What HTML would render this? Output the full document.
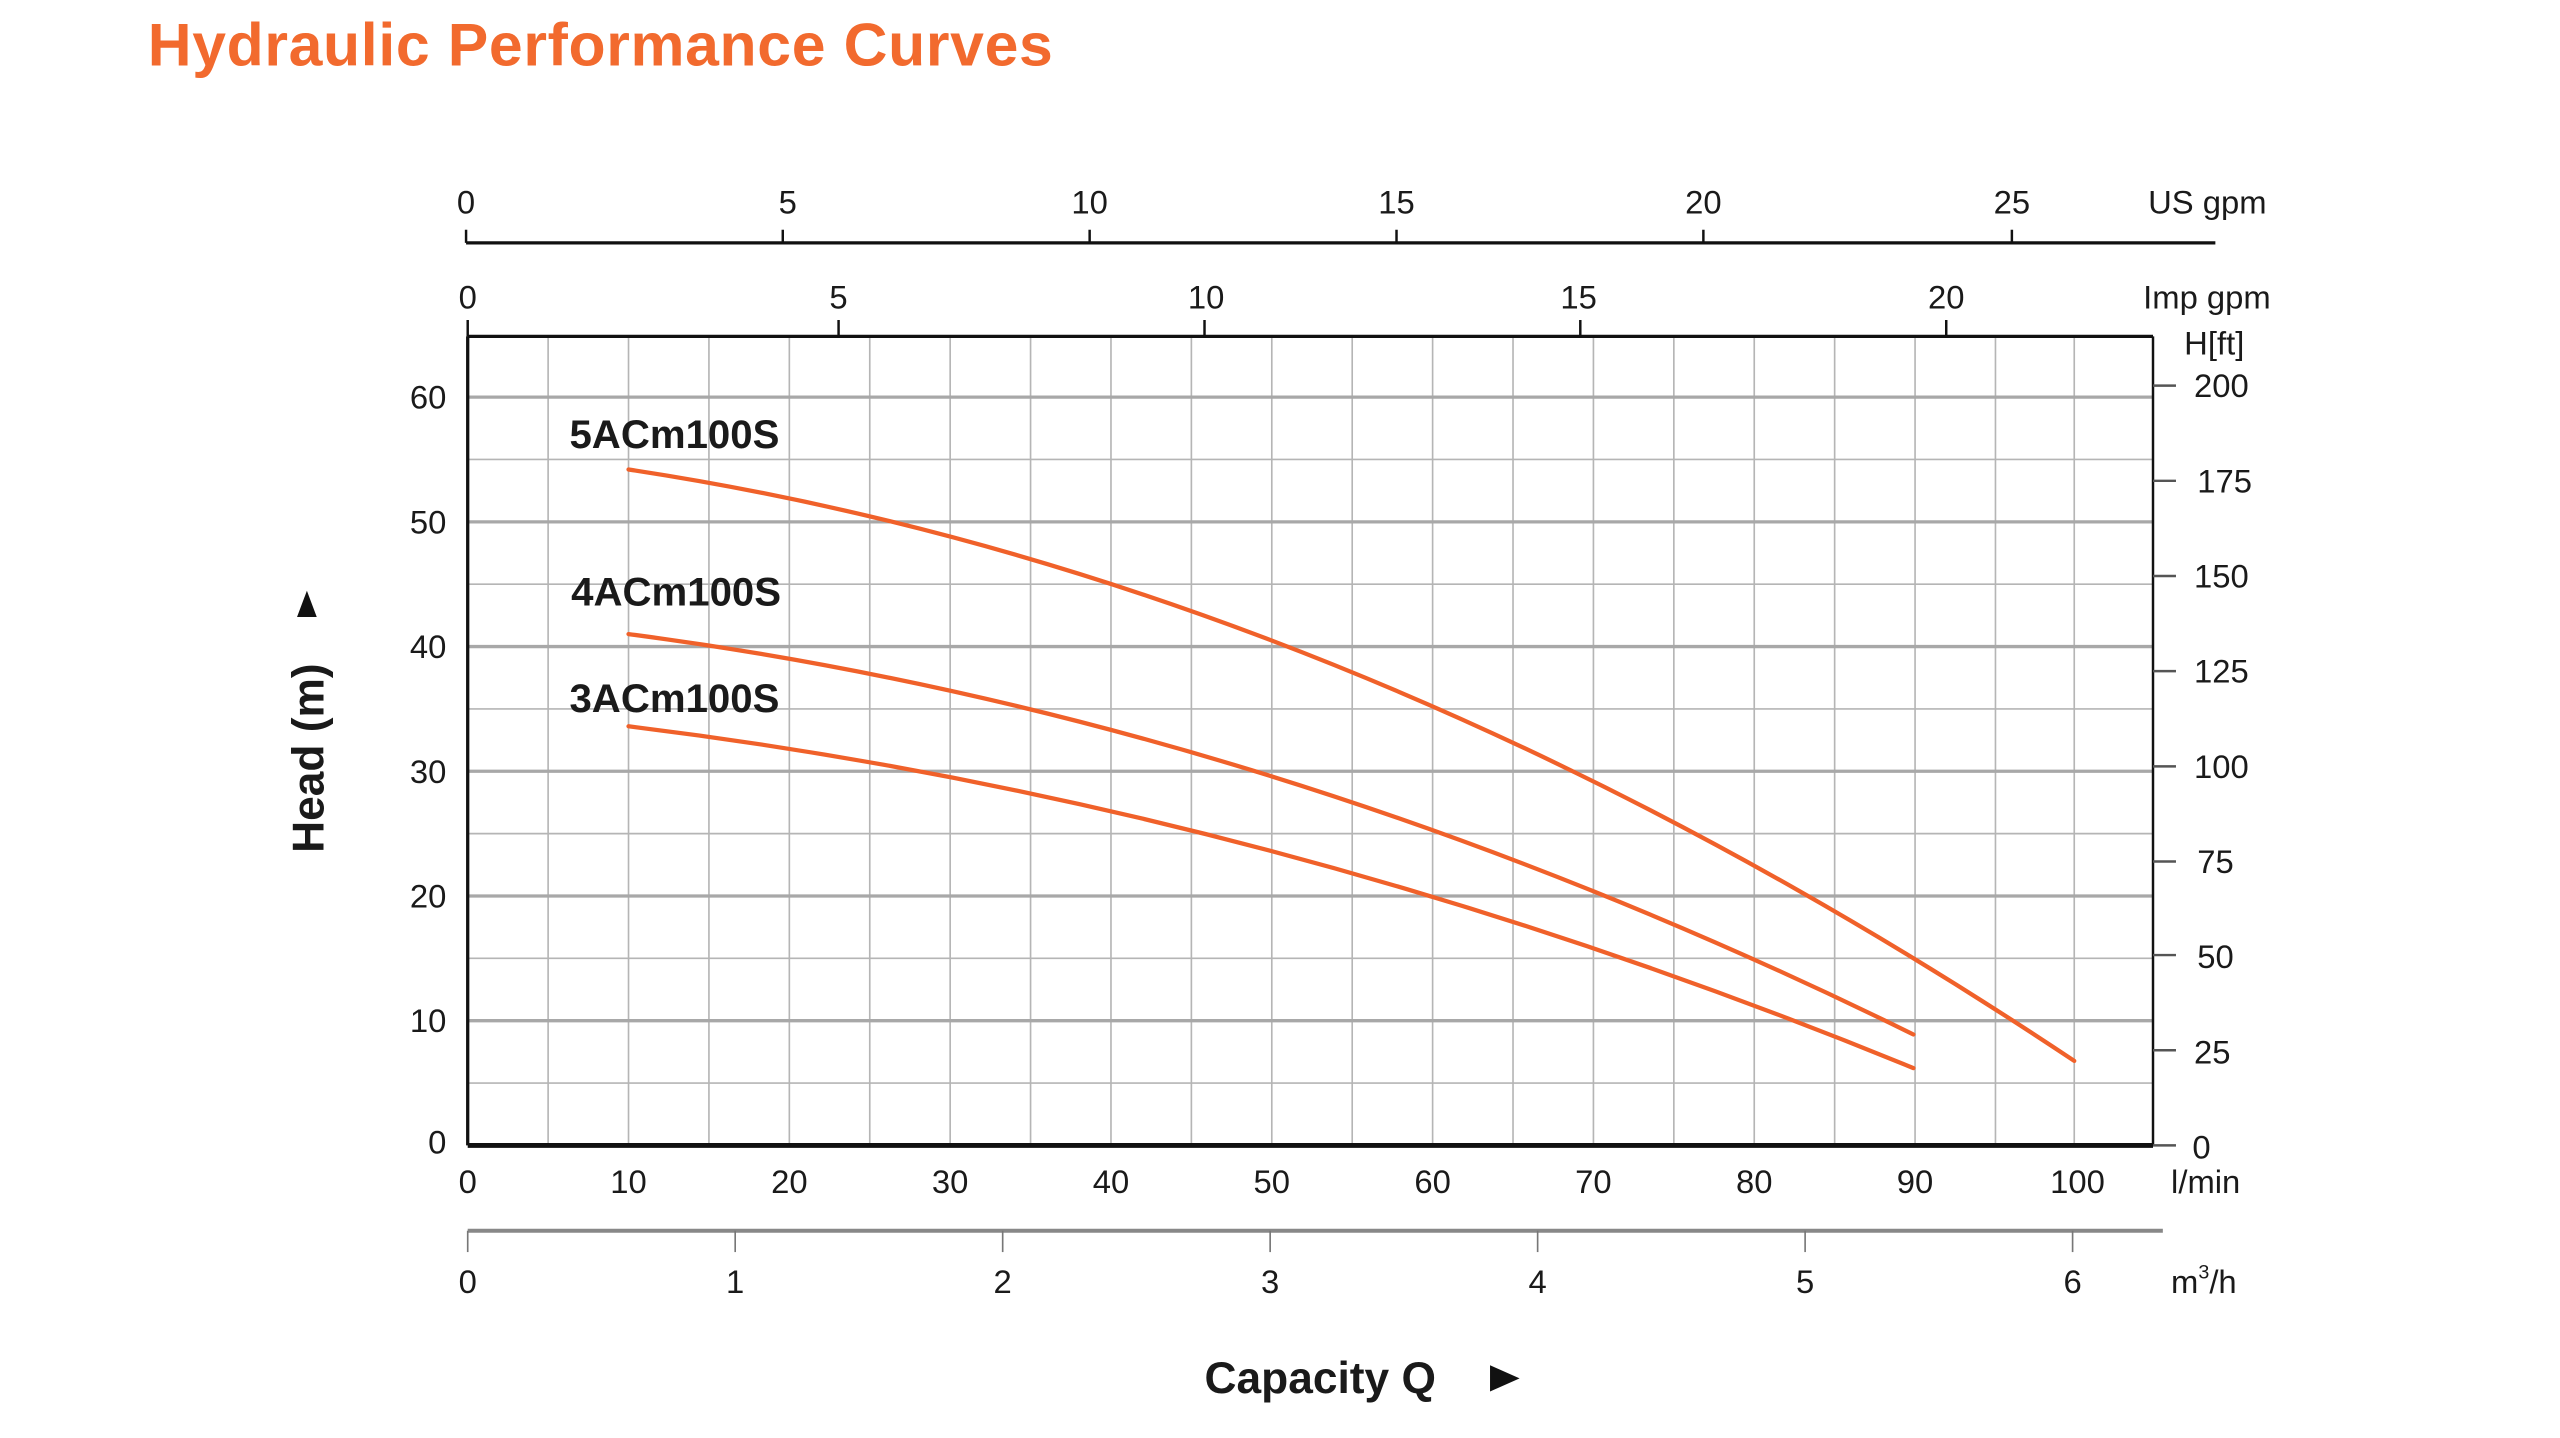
<!DOCTYPE html>
<html><head><meta charset="utf-8"><style>
html,body{margin:0;padding:0;background:#fff;}
svg{display:block;}
text{font-family:"Liberation Sans",sans-serif;fill:#1a1a1a;}
</style></head><body>
<svg width="2560" height="1438" viewBox="0 0 1560 876.3" xmlns="http://www.w3.org/2000/svg">
<text x="90" y="40" font-size="37" font-weight="bold" letter-spacing="0.4" style="fill:#f26a2e">Hydraulic Performance Curves</text>
<g stroke="#b5b5b5" stroke-width="1">
<line x1="334" y1="205" x2="334" y2="698"/><line x1="383" y1="205" x2="383" y2="698"/><line x1="432" y1="205" x2="432" y2="698"/><line x1="481" y1="205" x2="481" y2="698"/><line x1="530" y1="205" x2="530" y2="698"/><line x1="579" y1="205" x2="579" y2="698"/><line x1="628" y1="205" x2="628" y2="698"/><line x1="677" y1="205" x2="677" y2="698"/><line x1="726" y1="205" x2="726" y2="698"/><line x1="775" y1="205" x2="775" y2="698"/><line x1="824" y1="205" x2="824" y2="698"/><line x1="873" y1="205" x2="873" y2="698"/><line x1="922" y1="205" x2="922" y2="698"/><line x1="971" y1="205" x2="971" y2="698"/><line x1="1020" y1="205" x2="1020" y2="698"/><line x1="1069" y1="205" x2="1069" y2="698"/><line x1="1118" y1="205" x2="1118" y2="698"/><line x1="1167" y1="205" x2="1167" y2="698"/><line x1="1216" y1="205" x2="1216" y2="698"/><line x1="1264" y1="205" x2="1264" y2="698"/>
<line x1="285" y1="280" x2="1312" y2="280"/><line x1="285" y1="356" x2="1312" y2="356"/><line x1="285" y1="432" x2="1312" y2="432"/><line x1="285" y1="508" x2="1312" y2="508"/><line x1="285" y1="584" x2="1312" y2="584"/><line x1="285" y1="660" x2="1312" y2="660"/>
</g>
<g stroke="#a8a8a8" stroke-width="2">
<line x1="285" y1="242" x2="1312" y2="242"/><line x1="285" y1="318" x2="1312" y2="318"/><line x1="285" y1="394" x2="1312" y2="394"/><line x1="285" y1="470" x2="1312" y2="470"/><line x1="285" y1="546" x2="1312" y2="546"/><line x1="285" y1="622" x2="1312" y2="622"/>
</g>
<g stroke="#111" fill="none">
<line x1="285" y1="205" x2="1312" y2="205" stroke-width="2"/>
<line x1="285" y1="205" x2="285" y2="698" stroke-width="2"/>
<line x1="1312" y1="205" x2="1312" y2="698" stroke-width="1.5"/>
<line x1="285" y1="698" x2="1312" y2="698" stroke-width="3"/>
<line x1="284" y1="148" x2="1350" y2="148" stroke-width="2"/>
<g stroke-width="1.5">
<line x1="284" y1="140" x2="284" y2="148"/><line x1="477" y1="140" x2="477" y2="148"/><line x1="664" y1="140" x2="664" y2="148"/><line x1="851" y1="140" x2="851" y2="148"/><line x1="1038" y1="140" x2="1038" y2="148"/><line x1="1226" y1="140" x2="1226" y2="148"/>
<line x1="285" y1="195" x2="285" y2="205"/><line x1="511" y1="195" x2="511" y2="205"/><line x1="734" y1="195" x2="734" y2="205"/><line x1="963" y1="195" x2="963" y2="205"/><line x1="1186" y1="195" x2="1186" y2="205"/>
</g>
</g>
<g stroke="#555" stroke-width="1.5">
<line x1="1312" y1="235" x2="1326" y2="235"/><line x1="1312" y1="293" x2="1326" y2="293"/><line x1="1312" y1="351" x2="1326" y2="351"/><line x1="1312" y1="409" x2="1326" y2="409"/><line x1="1312" y1="467" x2="1326" y2="467"/><line x1="1312" y1="525" x2="1326" y2="525"/><line x1="1312" y1="582" x2="1326" y2="582"/><line x1="1312" y1="640" x2="1326" y2="640"/><line x1="1312" y1="698" x2="1326" y2="698"/>
</g>
<line x1="285" y1="750" x2="1318" y2="750" stroke="#888" stroke-width="2.5"/>
<g stroke="#777" stroke-width="1">
<line x1="285" y1="750" x2="285" y2="763"/><line x1="448" y1="750" x2="448" y2="763"/><line x1="611" y1="750" x2="611" y2="763"/><line x1="774" y1="750" x2="774" y2="763"/><line x1="937" y1="750" x2="937" y2="763"/><line x1="1100" y1="750" x2="1100" y2="763"/><line x1="1263" y1="750" x2="1263" y2="763"/>
</g>
<g font-size="20" text-anchor="middle">
<text x="284" y="130">0</text><text x="480" y="130">5</text><text x="664" y="130">10</text><text x="851" y="130">15</text><text x="1038" y="130">20</text><text x="1226" y="130">25</text>
<text x="285" y="188">0</text><text x="511" y="188">5</text><text x="735" y="188">10</text><text x="962" y="188">15</text><text x="1186" y="188">20</text>
<text x="285" y="727">0</text><text x="383" y="727">10</text><text x="481" y="727">20</text><text x="579" y="727">30</text><text x="677" y="727">40</text><text x="775" y="727">50</text><text x="873" y="727">60</text><text x="971" y="727">70</text><text x="1069" y="727">80</text><text x="1167" y="727">90</text><text x="1266" y="727">100</text>
<text x="285" y="788">0</text><text x="448" y="788">1</text><text x="611" y="788">2</text><text x="774" y="788">3</text><text x="937" y="788">4</text><text x="1100" y="788">5</text><text x="1263" y="788">6</text>
</g>
<g font-size="20" text-anchor="end">
<text x="272" y="249">60</text><text x="272" y="325">50</text><text x="272" y="401">40</text><text x="272" y="477">30</text><text x="272" y="553">20</text><text x="272" y="629">10</text><text x="272" y="703">0</text>
</g>
<g font-size="20">
<text x="1337" y="242">200</text><text x="1339" y="300">175</text><text x="1337" y="358">150</text><text x="1337" y="416">125</text><text x="1337" y="474">100</text><text x="1339" y="532">75</text><text x="1339" y="590">50</text><text x="1337" y="648">25</text><text x="1336" y="706">0</text>
<text x="1309" y="130">US gpm</text><text x="1306" y="188">Imp gpm</text><text x="1331" y="216">H[ft]</text>
<text x="1323" y="727">l/min</text><text x="1323" y="788">m<tspan font-size="12" dy="-9">3</tspan><tspan dy="9">/h</tspan></text>
</g>
<g font-size="24.5" font-weight="bold">
<text x="347" y="273">5ACm100S</text><text x="348" y="369">4ACm100S</text><text x="347" y="434">3ACm100S</text>
</g>
<text x="734" y="849" font-size="27" font-weight="bold">Capacity Q</text>
<polygon points="908,832 926,840 908,848" fill="#111"/>
<text transform="translate(197,462) rotate(-90)" font-size="27" font-weight="bold" text-anchor="middle">Head (m)</text>
<polygon points="181,376 187,360 193,376" fill="#111"/>
<g fill="none" stroke="#f0612a" stroke-width="2.6" stroke-linecap="round">
<path d="M383,286.1 Q823.5,352.7 1264,646.5"/>
<path d="M383,386.4 Q775,437.7 1166,630.4"/>
<path d="M383,442.6 Q775,490.5 1166,650.9"/>
</g>
</svg>
</body></html>
